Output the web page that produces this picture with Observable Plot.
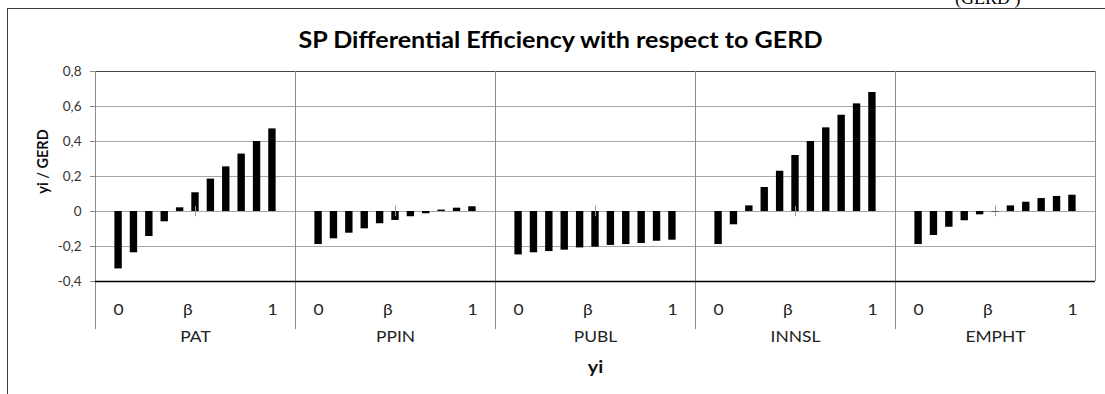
<!DOCTYPE html>
<html>
<head>
<meta charset="utf-8">
<script src="https://cdn.jsdelivr.net/npm/d3@7"></script>
<script src="https://cdn.jsdelivr.net/npm/@observablehq/plot@0.6"></script>
<style>
  body { margin: 0; background: #fff; }
  #wrap { position: relative; width: 1105px; height: 394px; overflow: hidden; background: #fff; }
  #chart { position: absolute; left: 0; top: 0; }
  #border { position: absolute; left: 7px; top: 8px; width: 1300px; height: 600px; border: 1px solid #3c3c3c; z-index: 2; }
  #cap { position: absolute; left: 955px; top: -11px; font: 18px "Liberation Serif", serif; color: #000; white-space: pre; line-height: 18px; }
</style>
</head>
<body>
<div id="wrap">
  <div id="cap">(GERD )</div>
  <div id="chart"></div>
  <div id="border"></div>
</div>
<script>
const title = "SP Differential Efficiency with respect to GERD";
const yLabel = "yi / GERD";
const xLabel = "yi";
const groups = ["PAT", "PPIN", "PUBL", "INNSL", "EMPHT"];
const PAT   = [-0.328, -0.236, -0.143, -0.059, 0.021, 0.107, 0.185, 0.255, 0.328, 0.400, 0.472];
const PPIN  = [-0.189, -0.156, -0.124, -0.099, -0.070, -0.051, -0.030, -0.013, 0.008, 0.019, 0.027];
const PUBL  = [-0.248, -0.236, -0.229, -0.221, -0.208, -0.204, -0.194, -0.189, -0.183, -0.170, -0.164];
const INNSL = [-0.189, -0.076, 0.032, 0.137, 0.230, 0.320, 0.400, 0.478, 0.550, 0.615, 0.680];
const EMPHT = [-0.189, -0.137, -0.090, -0.053, -0.019, -0.003, 0.032, 0.053, 0.074, 0.086, 0.093];
const series = [PAT, PPIN, PUBL, INNSL, EMPHT];
const tickLabels = ["0", "β", "1"];
const tickIndex = [0, 4.5, 10];     // category index of each tick label
const betaIndex = 5;                // category carrying the β marker
const yTicks = [-0.4, -0.2, 0, 0.2, 0.4, 0.6, 0.8];

const slots = 13;                   // 11 categories + one empty slot each side
const pos = (g, i) => g * slots + i + 1.5;

const bars = series.flatMap((vals, g) => vals.map((v, i) => ({group: groups[g], g, i, value: v})));
const tickRows = groups.flatMap((grp, g) => tickLabels.map((t, k) => ({g, text: t, x: pos(g, tickIndex[k])})));
const betaRows = groups.map((grp, g) => ({x: pos(g, betaIndex)}));
const sepRows = groups.map((grp, g) => g * slots);
const fmt = d => d === 0 ? "0" : d.toFixed(1).replace(".", ",");

const chart = Plot.plot({
  width: 1105,
  height: 394,
  marginLeft: 95,
  marginRight: 10,
  marginTop: 71,
  marginBottom: 113,
  style: {fontFamily: "Lato, sans-serif", background: "transparent", overflow: "visible"},
  x: {domain: [0, groups.length * slots], axis: null},
  y: {domain: [-0.4, 0.8], axis: null},
  marks: [
    Plot.ruleY(yTicks.filter(d => d > -0.4 && d < 0.8), {stroke: "#a6a6a6"}),
    Plot.ruleY([0.8], {stroke: "#444"}),
    Plot.ruleX(sepRows, {stroke: "#8c8c8c", insetBottom: -48}),
    Plot.ruleX([groups.length * slots], {stroke: "#8c8c8c"}),
    Plot.rectY(bars, {x1: d => pos(d.g, d.i) - 0.24, x2: d => pos(d.g, d.i) + 0.24, y1: 0, y2: "value", fill: "#000"}),
    Plot.ruleX(betaRows, {x: "x", y1: -0.03, y2: 0.03, stroke: "#999"}),
    Plot.ruleY([-0.4], {stroke: "#000", strokeWidth: 1.5}),
    Plot.axisY({ticks: yTicks, tickFormat: fmt, tickSize: 5, tickPadding: 9, fontSize: 13, stroke: "#888", fill: "#333", label: null}),
    Plot.text(tickRows, {x: "x", frameAnchor: "bottom", lineAnchor: "middle", dy: 29, text: "text", fontSize: 15, fill: "#222"}),
    Plot.text(groups, {x: (d, g) => pos(g, 5), frameAnchor: "bottom", lineAnchor: "middle", dy: 56, text: d => d, fontSize: 15, fill: "#222"}),
    Plot.text([xLabel], {frameAnchor: "bottom", lineAnchor: "middle", dy: 86, text: d => d, fontSize: 17, fontWeight: "bold", fill: "#111"}),
    Plot.text([yLabel], {frameAnchor: "left", lineAnchor: "middle", dx: -52, dy: -15, rotate: -90, textAnchor: "middle", text: d => d, fontSize: 14.5, fontWeight: "bold", fill: "#111"}),
    Plot.text([title], {frameAnchor: "top", lineAnchor: "middle", dx: -35, dy: -31, textAnchor: "middle", text: d => d, fontSize: 22, fontWeight: "bold", fill: "#000"})
  ]
});
document.getElementById("chart").appendChild(chart);

// The reference picture is stretched horizontally: widen horizontal texts to match.
chart.querySelectorAll("text").forEach(t => {
  const tr = (t.getAttribute("transform") || "") + (t.parentNode.getAttribute("transform") || "");
  if (/rotate/.test(tr)) return;
  const w = t.getComputedTextLength();
  if (!(w > 0)) return;
  const label = t.parentNode.getAttribute("aria-label") || "";
  let target;
  if (t.textContent === title) target = 524;
  else if (/y-axis/.test(label)) target = w * 1.04;
  else target = w * 1.16;
  t.setAttribute("textLength", target.toFixed(2));
  t.setAttribute("lengthAdjust", "spacingAndGlyphs");
});
</script>
</body>
</html>
